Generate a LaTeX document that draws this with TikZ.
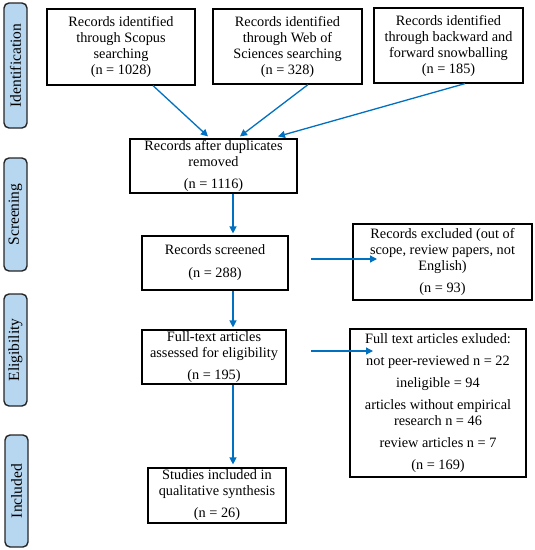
\documentclass[tikz,border=0pt]{standalone}
\usepackage{fontspec}
\setmainfont{Liberation Serif}
\usetikzlibrary{arrows.meta,calc}
\definecolor{arrblue}{RGB}{0,112,192}
\definecolor{lblfill}{RGB}{183,214,240}
\tikzset{
  box/.style={draw=black, line width=1.2pt, inner sep=0pt, align=center,
    font=\fontsize{14.3}{16}\selectfont},
  lbl/.style={draw=black!85, line width=1.4pt, fill=lblfill, rounded corners=5pt,
    inner sep=0pt, minimum width=23pt, font=\fontsize{15.5}{16}\selectfont},
  arr/.style={draw=arrblue, line width=1.3pt, -{Triangle[length=7pt,width=7pt]}},
}
\begin{document}
\begin{tikzpicture}[x=1pt,y=-1pt]
\useasboundingbox (0,0) rectangle (535,550);
% side labels
\node[lbl, minimum height=125pt] (lid) at (15.5,65.5) {\rotatebox{90}{Identification}};
\node[lbl, minimum height=113pt] (lsc) at (15.5,214.5) {\rotatebox{90}{Screening}};
\node[lbl, minimum height=112pt] (lel) at (15.5,350) {\rotatebox{90}{Eligibility}};
\node[lbl, minimum height=112pt] (lin) at (16.5,491) {\rotatebox{90}{Included}};
% boxes
\node[box, minimum width=148pt, minimum height=76pt] (scopus) at (121,47)
  {Records identified\\through Scopus\\searching\\(n = 1028)};
\node[box, minimum width=149pt, minimum height=75pt] (wos) at (287.5,46.5)
  {Records identified\\through Web of\\Sciences searching\\(n = 328)};
\node[box, minimum width=149pt, minimum height=75pt] (snow) at (448.5,45.5)
  {Records identified\\through backward and\\forward snowballing\\(n = 185)};
\node[box, minimum width=167pt, minimum height=54pt] (dup) at (213.5,166)
  {Records after duplicates\\removed\\[6pt](n = 1116)};
\node[box, minimum width=146pt, minimum height=54pt] (scr) at (215,263)
  {Records screened\\[7pt](n = 288)};
\node[box, minimum width=179pt, minimum height=76pt] (excl) at (442.5,262)
  {Records excluded (out of\\scope, review papers, not\\English)\\[6pt](n = 93)};
\node[box, minimum width=144pt, minimum height=54pt] (full) at (214,357)
  {Full-text articles\\assessed for eligibility\\[6pt](n = 195)};
\node[box, minimum width=176pt, minimum height=148pt] (ftex) at (438,403)
  {Full text articles exluded:\\[6pt]not peer-reviewed n = 22\\[6pt]ineligible = 94\\[6pt]articles without empirical\\research n = 46\\[6pt]review articles n = 7\\[6pt](n = 169)};
\node[box, minimum width=138pt, minimum height=55pt] (stud) at (217,495.5)
  {Studies included in\\qualitative synthesis\\[6pt](n = 26)};
% connector helper coordinates
\coordinate (xa) at (233,0);
\coordinate (e1s) at (311,259);
\coordinate (e1e) at (377,259);
\coordinate (e2s) at (311,351);
\coordinate (e2e) at (373,351);
% connectors
\draw[arr] ($(scopus.south)+(32,0)$) -- ($(dup.north)+(-5.5,-2)$);
\draw[arr] ($(wos.south)+(20.5,0)$) -- ($(dup.north)+(26.5,-2)$);
\draw[arr] ($(snow.south)+(16.5,0)$) -- ($(dup.north)+(64.5,-2)$);
\draw[arr] (dup.south -| xa) -- ($(scr.north -| xa)+(0,-2)$);
\draw[arr] (scr.south -| xa) -- ($(full.north -| xa)+(0,-2)$);
\draw[arr] (full.south -| xa) -- ($(stud.north -| xa)+(0,-3)$);
\draw[arr] (e1s) -- (e1e);
\draw[arr] (e2s) -- (e2e);
\end{tikzpicture}
\end{document}
